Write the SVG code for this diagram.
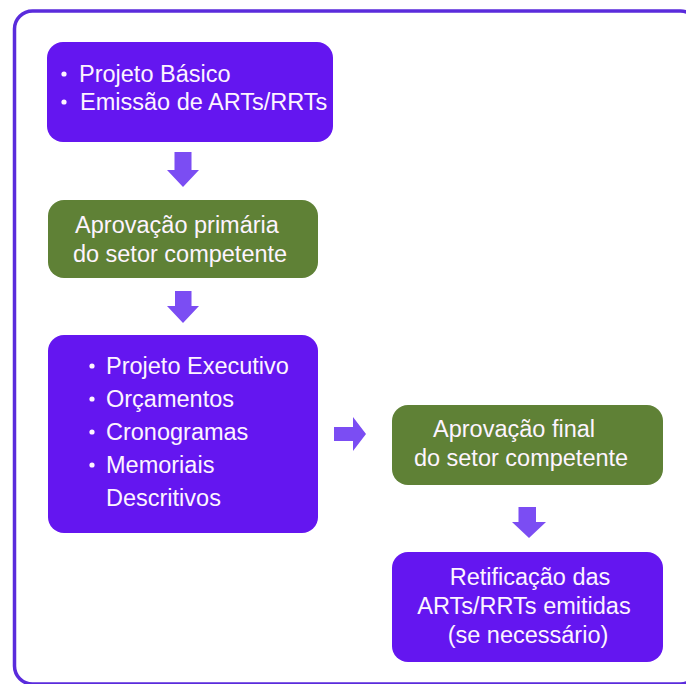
<svg xmlns="http://www.w3.org/2000/svg" width="686" height="684" viewBox="0 0 686 684">
<style>
.frame{fill:#ffffff;stroke:#5a2bdc;stroke-width:3.5}
.purple{fill:#6416f0}
.green{fill:#5f8136}
.arrow{fill:#7b4df3}
.dot{fill:#fdf4ff}
text{font-family:"Liberation Sans",Arial,sans-serif;font-size:23.5px;fill:#fdf4ff}
.c{text-anchor:middle}
</style>
<rect width="686" height="684" fill="#ffffff"/>
<rect class="frame" x="14.5" y="11" width="684" height="673" rx="18"/>
<g id="connectors">
<path class="arrow" d="M174.5,152 H191.5 V170 H199 L183,187 L167,170 H174.5 Z"/>
<path class="arrow" d="M175,291 H191.5 V306 H199 L183,323 L167,306 H175 Z"/>
<path class="arrow" d="M334,427 H353 V417 L366,434 L353,451 V441 H334 Z"/>
<path class="arrow" d="M518.5,507 H536 V522 H546 L529,538 L512,522 H518.5 Z"/>
</g>
<g id="node1">
<rect class="purple" x="47" y="42" width="286" height="100" rx="16"/>
<circle class="dot" cx="64" cy="74" r="2.6"/>
<circle class="dot" cx="64" cy="102" r="2.6"/>
<text x="79" y="82">Projeto Básico</text>
<text x="80" y="110">Emissão de ARTs/RRTs</text>
</g>
<g id="node2">
<rect class="green" x="48" y="200" width="270" height="78" rx="16"/>
<text class="c" x="177" y="233">Aprovação primária</text>
<text class="c" x="180" y="262">do setor competente</text>
</g>
<g id="node3">
<rect class="purple" x="48" y="335" width="270" height="198" rx="16"/>
<circle class="dot" cx="92" cy="366" r="2.6"/>
<circle class="dot" cx="92" cy="399" r="2.6"/>
<circle class="dot" cx="92" cy="432" r="2.6"/>
<circle class="dot" cx="92" cy="465" r="2.6"/>
<text x="106" y="374">Projeto Executivo</text>
<text x="106" y="407">Orçamentos</text>
<text x="106" y="440">Cronogramas</text>
<text x="106" y="473">Memoriais</text>
<text x="106" y="506">Descritivos</text>
</g>
<g id="node4">
<rect class="green" x="392" y="405" width="271" height="80" rx="16"/>
<text class="c" x="514" y="437">Aprovação final</text>
<text class="c" x="521" y="466">do setor competente</text>
</g>
<g id="node5">
<rect class="purple" x="392" y="552" width="271" height="110" rx="16"/>
<text class="c" x="530" y="585">Retificação das</text>
<text class="c" x="524" y="614">ARTs/RRTs emitidas</text>
<text class="c" x="528" y="643">(se necessário)</text>
</g>
</svg>
